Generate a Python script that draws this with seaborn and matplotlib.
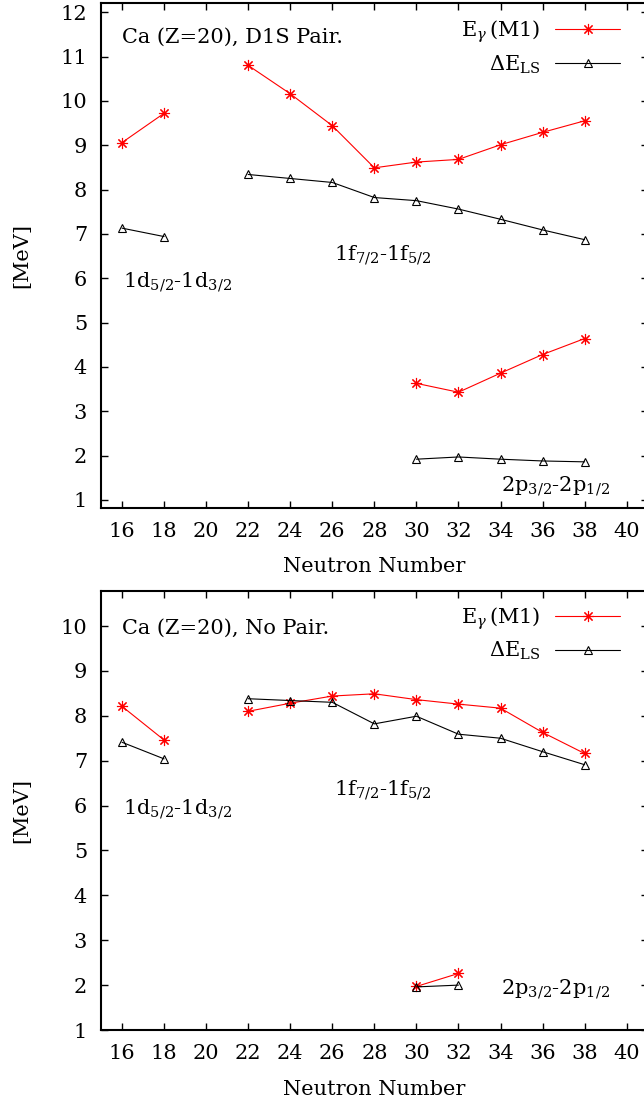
import matplotlib
matplotlib.use('Agg')
import matplotlib.pyplot as plt
import seaborn as sns
import pandas as pd
from matplotlib.lines import Line2D

# neutron numbers for each shell block
n_d = [16, 18]
n_f = [22, 24, 26, 28, 30, 32, 34, 36, 38]
n_p = [30, 32, 34, 36, 38]
n_p_nopair = [30, 32]

# D1S pairing
eg_d_pair = [9.06, 9.72]
eg_f_pair = [10.80, 10.16, 9.44, 8.49, 8.62, 8.68, 9.01, 9.29, 9.55]
eg_p_pair = [3.63, 3.43, 3.86, 4.28, 4.64]
dls_d_pair = [7.13, 6.94]
dls_f_pair = [8.34, 8.25, 8.16, 7.82, 7.75, 7.56, 7.33, 7.09, 6.87]
dls_p_pair = [1.92, 1.97, 1.92, 1.88, 1.86]

# no pairing
eg_d_nopair = [8.21, 7.46]
eg_f_nopair = [8.10, 8.28, 8.44, 8.49, 8.36, 8.26, 8.17, 7.63, 7.16]
eg_p_nopair = [1.97, 2.26]
dls_d_nopair = [7.41, 7.04]
dls_f_nopair = [8.38, 8.34, 8.30, 7.82, 7.99, 7.59, 7.50, 7.20, 6.91]
dls_p_nopair = [1.96, 2.00]

x_ticks = list(range(16, 42, 2))
legend_labels = [r'E$_\gamma\,$(M1)', r'$\Delta$E$_{\rm LS}$']
shell_labels = [r'1d$_{5/2}$-1d$_{3/2}$', r'1f$_{7/2}$-1f$_{5/2}$', r'2p$_{3/2}$-2p$_{1/2}$']

sns.set_style('ticks')
plt.rcParams['font.family'] = ['DejaVu Serif']
plt.rcParams['mathtext.fontset'] = 'dejavuserif'
plt.rcParams['text.color'] = 'black'
plt.rcParams['axes.labelcolor'] = 'black'
plt.rcParams['axes.edgecolor'] = 'black'
plt.rcParams['xtick.color'] = 'black'
plt.rcParams['ytick.color'] = 'black'

FS = 15
red_style = dict(color='red', marker=(8, 2, 0), markersize=8, markeredgewidth=0.8,
                 markeredgecolor='red', markerfacecolor='red', linewidth=0.8)
blk_style = dict(color='black', marker='^', markersize=6, markeredgewidth=0.8,
                 markeredgecolor='black', markerfacecolor='none', linewidth=0.8)


def draw_panel(ax, segments, title, title_y, ylim, yticks, label_pos, leg_y):
    for n, eg, dls in segments:
        df = pd.DataFrame({'N': n, 'Eg': eg, 'dLS': dls})
        sns.lineplot(data=df, x='N', y='Eg', ax=ax, legend=False, **red_style)
        sns.lineplot(data=df, x='N', y='dLS', ax=ax, legend=False, **blk_style)
    ax.set_xlim(15, 41)
    ax.set_ylim(*ylim)
    ax.set_xticks(x_ticks)
    ax.set_yticks(yticks)
    ax.tick_params(direction='in', length=5, width=1, top=True, right=True,
                   labelsize=FS, pad=10)
    for s in ax.spines.values():
        s.set_linewidth(1.5)
    ax.set_xlabel('Neutron Number', fontsize=FS, labelpad=12)
    ax.set_ylabel('[MeV]', fontsize=FS)
    ax.yaxis.set_label_coords(-0.128, 0.5)
    ax.text(16, title_y, title, fontsize=FS, va='baseline', ha='left')
    for (x, y), lab in zip(label_pos, shell_labels):
        ax.text(x, y, lab, fontsize=FS, va='baseline', ha='left')
    handles = [Line2D([], [], **red_style), Line2D([], [], **blk_style)]
    ax.legend(handles, legend_labels, loc='upper right', bbox_to_anchor=(0.949, leg_y),
              frameon=False, markerfirst=False, fontsize=FS, handlelength=3.1,
              handletextpad=0.7, labelspacing=0.4, borderpad=0, borderaxespad=0)


fig = plt.figure(figsize=(6.44, 11.05), dpi=100)
ax1 = fig.add_axes([0.15683, 0.54054, 0.8489, 0.45647])
ax2 = fig.add_axes([0.15683, 0.06787, 0.8489, 0.39729])

draw_panel(ax1,
           [(n_d, eg_d_pair, dls_d_pair), (n_f, eg_f_pair, dls_f_pair),
            (n_p, eg_p_pair, dls_p_pair)],
           'Ca (Z=20), D1S Pair.', 11.31, (0.826, 12.2), range(1, 13),
           [(16.06, 5.79), (26.08, 6.40), (34.0, 1.19)], 0.970)

draw_panel(ax2,
           [(n_d, eg_d_nopair, dls_d_nopair), (n_f, eg_f_nopair, dls_f_nopair),
            (n_p_nopair, eg_p_nopair, dls_p_nopair)],
           'Ca (Z=20), No Pair.', 9.82, (1.0, 10.78), range(1, 11),
           [(16.06, 5.80), (26.08, 6.24), (34.0, 1.80)], 0.9675)

fig.savefig('out.png', dpi=100)
plt.close(fig)
